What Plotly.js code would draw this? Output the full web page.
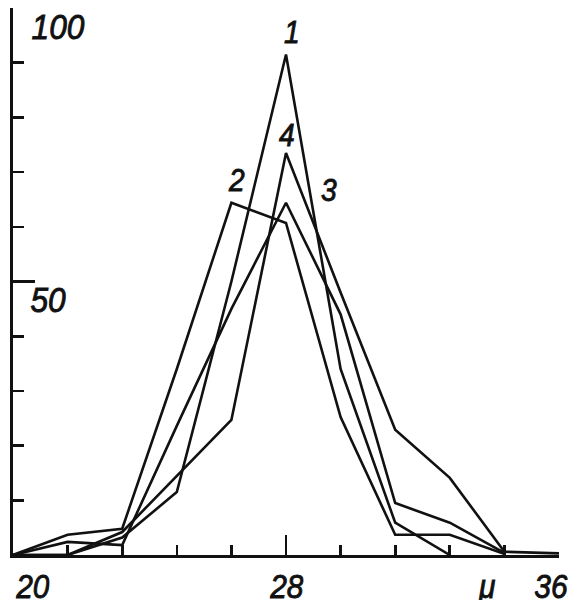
<!DOCTYPE html>
<html>
<head>
<meta charset="utf-8">
<script src="https://cdn.plot.ly/plotly-3.0.1.min.js"></script>
<style>
html,body{margin:0;padding:0;background:#fff;}
/* pen-drawn lettering: slightly heavier and narrower strokes */
#chart .annotation-text{
  stroke:#111; stroke-width:0.9px; paint-order:stroke;
  transform-box:fill-box; transform-origin:center; transform:scaleX(0.88);
}
</style>
</head>
<body>
<div id="chart" style="width:568px;height:604px"></div>
<script>
// Class midpoints along the μ axis (one step = 1.6)
const xBins = [20, 21.6, 23.2, 24.8, 26.4, 28, 29.6, 31.2, 32.8, 34.4, 36];

// Frequency polygons, percent of maximum
const curve1 = [0, 0, 3.2, 11.5, 50, 91.5, 34, 5.9, 0, null, null];
const curve2 = [0, 3.7, 4.8, 34, 64.4, 60.7, 25.2, 3.7, 3.7, 0.2, null];
const curve3 = [0, 2.4, 1.8, 23.6, 45, 64.4, 44, 9.5, 5.9, 0.4, null];
const curve4 = [0, 0, 4.2, 14.5, 24.7, 73.5, 48, 22.9, 14.1, 0.6, 0.3];

const curveNames = ['1', '2', '3', '4'];
const curveValues = [curve1, curve2, curve3, curve4];

// Axis lettering
const xLabelValues = [20, 28, 36];
const xLabelText = ['20', '28', '36'];
const yLabelValues = [100, 50];
const yLabelText = ['100', '50'];
const xUnit = 'μ';

const ink = '#111';
const handFont = {
  family: 'Liberation Sans Narrow, Liberation Sans, Arial, sans-serif',
  size: 36,
  color: ink,
  style: 'italic'
};
const bottomFont = Object.assign({}, handFont, {size: 34});

const traces = curveValues.map((ys, i) => ({
  type: 'scatter',
  mode: 'lines',
  name: curveNames[i],
  x: xBins,
  y: ys,
  line: {color: ink, width: 2.6},
  connectgaps: false,
  hoverinfo: 'skip'
}));

const annotations = [];
// numbers under the x axis
const bottomLabel = {xref: 'x', yref: 'y', y: 0, yanchor: 'middle', yshift: -31,
  height: 28, showarrow: false, font: bottomFont};
annotations.push(Object.assign({}, bottomLabel, {x: xLabelValues[0], text: xLabelText[0], xanchor: 'left', xshift: -2}));
annotations.push(Object.assign({}, bottomLabel, {x: xLabelValues[1], text: xLabelText[1], xanchor: 'center'}));
annotations.push(Object.assign({}, bottomLabel, {x: xLabelValues[2], text: xLabelText[2], xanchor: 'center', xshift: -8}));
annotations.push(Object.assign({}, bottomLabel, {x: 33.9, text: xUnit, xanchor: 'center', yshift: -31}));
// numbers beside the y axis, just under their long ticks
yLabelValues.forEach((v, i) => annotations.push({
  x: 20, y: v, xref: 'x', yref: 'y', text: yLabelText[i],
  xanchor: 'left', yanchor: 'middle', xshift: 13, yshift: -18,
  showarrow: false, font: handFont
}));
// curve numbers
const curveTagPos = [[28.18, 95.6], [26.54, 68.6], [29.27, 66.7], [28.04, 76.8]];
curveNames.forEach((n, i) => annotations.push({
  x: curveTagPos[i][0], y: curveTagPos[i][1], xref: 'x', yref: 'y', text: n,
  xanchor: 'center', yanchor: 'middle', showarrow: false,
  font: Object.assign({}, handFont, {size: 32})
}));

const layout = {
  width: 568,
  height: 604,
  margin: {l: 13, r: 9, t: 8, b: 49},
  paper_bgcolor: '#fff',
  plot_bgcolor: '#fff',
  showlegend: false,
  xaxis: {
    range: [20, 36],
    showgrid: false,
    zeroline: false,
    showline: true,
    linecolor: ink,
    linewidth: 3,
    tickmode: 'array',
    tickvals: xLabelValues,
    ticktext: ['', '', ''],
    ticks: 'inside',
    ticklen: 20,
    tickwidth: 2.6,
    tickcolor: ink,
    minor: {tickmode: 'linear', tick0: 20, dtick: 1.6, ticks: 'inside',
            ticklen: 10, tickwidth: 2.6, tickcolor: ink, showgrid: false},
    fixedrange: true
  },
  yaxis: {
    range: [0, 100],
    showgrid: false,
    zeroline: false,
    showline: true,
    linecolor: ink,
    linewidth: 3,
    tickmode: 'array',
    tickvals: yLabelValues,
    ticktext: ['', ''],
    ticks: 'inside',
    ticklen: 22,
    tickwidth: 2.6,
    tickcolor: ink,
    minor: {tickmode: 'linear', tick0: 0, dtick: 10, ticks: 'inside',
            ticklen: 11, tickwidth: 2.6, tickcolor: ink, showgrid: false},
    fixedrange: true
  },
  annotations: annotations
};

Plotly.newPlot('chart', traces, layout, {displayModeBar: false, staticPlot: true});
</script>
</body>
</html>
